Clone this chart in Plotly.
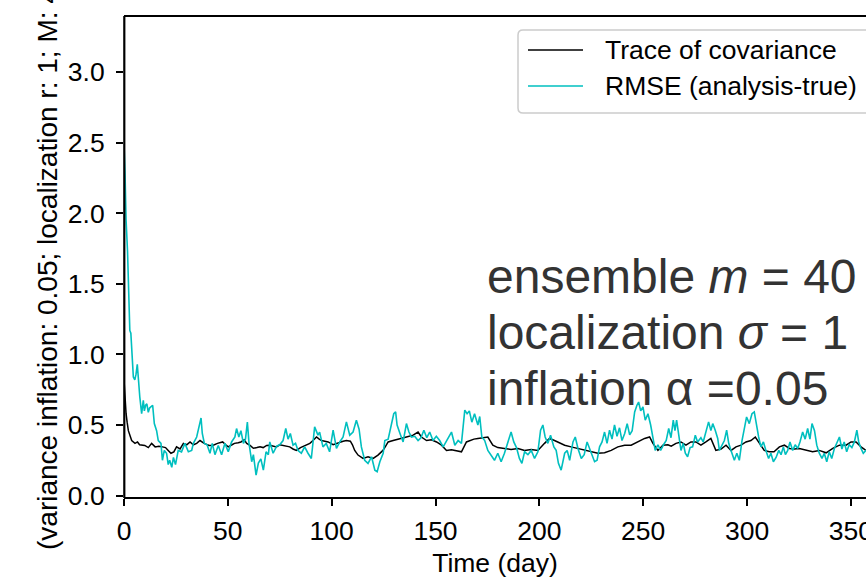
import plotly.graph_objects as go

# ---- data ----
trace_day = [0, 0.5, 1, 1.5, 2.1, 3, 3.7, 5.3, 6.5, 7.5, 8.5, 10, 11.7, 13.3, 15, 16.8, 18.5, 20, 21.3, 22.6,
             24, 25.3, 27, 28.6, 30.2, 31.8, 33.4, 35, 36.6, 38.6, 41, 43, 45, 47.5, 49, 50.2, 52, 53.2, 55, 56.3,
             57.9, 59.1, 60.7, 62.3, 64, 65.5, 67, 68.7, 70.2, 71.8, 73.4, 75, 76.6, 78, 79.8, 81.4, 83, 85, 87.8,
             89.5, 91, 92.7, 94, 95.1, 96.7, 98.3, 100.7, 102.3, 103.9, 105.5, 107.1, 109, 110, 111.1, 112.7,
             115.1, 117.5, 120, 122.3, 124.7, 126, 127.2, 129.6, 132.8, 136, 139.2, 141.6, 143.2, 145.7, 148,
             150.5, 152.9, 155.3, 157.7, 160.1, 162.5, 164.9, 166.5, 168.5, 170.4, 173, 175.2, 177.6, 180, 183.2,
             186.4, 189.7, 192.9, 196.1, 199.3, 202.5, 204.9, 207.3, 209.8, 212.2, 215.3, 218.6, 221.8, 225,
             228.2, 231.4, 234.6, 237.8, 241.1, 244.2, 247.5, 250.7, 253.1, 254.7, 257.1, 259.5, 261.9, 263.5,
             265.8, 268.2, 270.6, 273, 275.4, 277.8, 280.2, 282.6, 285, 287.5, 289.9, 292.3, 294.7, 297.1, 299.5,
             301.9, 304, 305.9, 308.3, 310.7, 313, 315.6, 318, 320.4, 322.8, 325.2, 328.4, 331.6, 334.8, 338.1,
             341.3, 344.5, 347.7, 350.1, 352.5, 354.9, 357.3, 360]
trace_val = [0.82, 0.68, 0.58, 0.52, 0.46, 0.42, 0.39, 0.37, 0.38, 0.36, 0.36, 0.355, 0.34, 0.37, 0.345, 0.35,
             0.345, 0.34, 0.32, 0.30, 0.31, 0.345, 0.33, 0.37, 0.36, 0.38, 0.36, 0.37, 0.39, 0.37, 0.355, 0.357,
             0.37, 0.38, 0.36, 0.345, 0.36, 0.37, 0.375, 0.38, 0.395, 0.37, 0.355, 0.335, 0.34, 0.345, 0.34,
             0.355, 0.357, 0.35, 0.345, 0.36, 0.355, 0.35, 0.345, 0.33, 0.32, 0.34, 0.357, 0.37, 0.39, 0.415,
             0.40, 0.39, 0.385, 0.38, 0.36, 0.37, 0.38, 0.385, 0.39, 0.385, 0.36, 0.32, 0.287, 0.263, 0.275,
             0.263, 0.287, 0.32, 0.35, 0.38, 0.39, 0.405, 0.415, 0.428, 0.45, 0.415, 0.39, 0.395, 0.38, 0.357,
             0.32, 0.325, 0.32, 0.31, 0.38, 0.39, 0.40, 0.405, 0.41, 0.415, 0.357, 0.34, 0.334, 0.327, 0.334,
             0.32, 0.327, 0.32, 0.37, 0.405, 0.39, 0.373, 0.357, 0.345, 0.334, 0.32, 0.31, 0.30, 0.303, 0.32,
             0.345, 0.357, 0.357, 0.38, 0.405, 0.415, 0.37, 0.32, 0.357, 0.36, 0.35, 0.37, 0.38, 0.357, 0.38,
             0.38, 0.357, 0.38, 0.405, 0.32, 0.33, 0.357, 0.32, 0.345, 0.357, 0.38, 0.39, 0.415, 0.37, 0.32,
             0.31, 0.31, 0.345, 0.357, 0.334, 0.33, 0.334, 0.32, 0.31, 0.32, 0.303, 0.334, 0.357, 0.357, 0.38,
             0.38, 0.345, 0.32, 0.33]

rmse_day = [0, 0.1, 0.5, 0.75, 1.0, 1.7, 2.2, 2.8, 3.3, 3.7, 4.5, 5.2, 5.8, 6.4, 6.9, 7.6, 8.5, 9.3, 9.8, 10.4,
            11.0, 11.7, 12.3, 13.0, 13.8, 14.6, 15.7, 16.5, 17.8, 18.5, 19.4, 20.5, 21.3, 22, 23, 23.8, 24.8,
            26.1, 27.7, 29.3, 31, 32.6, 33.4, 35, 36.1, 37.1, 37.7, 38.7, 40, 41.4, 42.5, 43.8, 45.4, 47, 48.6,
            50.2, 51.8, 53.4, 54.2, 55.3, 56.3, 57.5, 58.5, 59.4, 60.2, 61.5, 62.3, 63.6, 64.7, 65.9, 67.1, 68.4,
            69.5, 70.2, 71.8, 73.5, 75, 76.6, 77.9, 79, 80.1, 81.4, 82.6, 83.8, 85.4, 87, 88.6, 90.2, 91.8, 93.4,
            94.2, 95.8, 97.4, 99, 100.7, 102.3, 103.9, 105.5, 107.1, 108.7, 110.3, 111.9, 113.2, 114.3, 115.9,
            117.5, 119.2, 120.8, 121.9, 123.2, 124.8, 125.6, 127.2, 128.8, 129.9, 130.8, 131.5, 132.9, 134.4,
            136, 137.2, 138.4, 140, 141.6, 143, 144.4, 145.8, 147.2, 148.8, 150.4, 152, 153.7, 155.3, 156.9,
            157.7, 159.3, 160.9, 162.5, 164.1, 165.2, 166.3, 167.5, 168.8, 170.4, 171.3, 172.3, 173.7, 175.2,
            176.8, 178.4, 180, 181.6, 183.2, 184.8, 186.4, 187.7, 189, 190.4, 191.6, 192.9, 194.5, 196.1, 197.7,
            199.3, 200.6, 201.7, 202.8, 204.1, 205.4, 207, 208.1, 209.2, 210.5, 212.2, 213.4, 214.6, 216.2,
            217.3, 218.6, 220.2, 221.6, 223, 224.2, 225.3, 226.6, 227.8, 229, 230.2, 231.4, 232.6, 233.8, 235,
            236.2, 237.4, 238.6, 239.8, 241.1, 242.3, 243.5, 244.7, 245.9, 247, 247.8, 248.8, 249.9, 251, 252.3,
            253.6, 254.7, 255.8, 257.1, 258.4, 259.8, 261.1, 262.3, 263.4, 264.5, 265.3, 266.1, 267.1, 268.2,
            269.3, 270.3, 271.4, 272.6, 273.8, 275.1, 276.2, 277.8, 278.9, 280.2, 281.5, 282.6, 283.5, 284.7,
            285.9, 286.7, 287.9, 289.1, 290.2, 291.2, 292.3, 293.9, 295.1, 296.3, 297.6, 298.7, 299.8, 301.1,
            302.4, 303.5, 304.3, 305.6, 306.7, 307.9, 309.1, 310.4, 311.5, 312.7, 314, 315.3, 316.4, 317.5,
            318.5, 319.6, 320.7, 322, 323.2, 324.4, 325.5, 326.8, 328, 329.2, 330.3, 331.3, 332.5, 333.6, 334.8,
            336.1, 337.2, 338.4, 339.6, 340.8, 342, 343.2, 344.5, 345.7, 346.8, 348, 349.2, 350.5, 351.7, 352.9,
            353.8, 354.9, 356, 357.3, 360]
rmse_val = [3.24, 2.45, 2.28, 2.08, 1.95, 1.73, 1.45, 1.17, 1.15, 1.02, 0.84, 0.82, 0.86, 0.93, 0.82, 0.70, 0.58,
            0.675, 0.60, 0.64, 0.65, 0.59, 0.62, 0.63, 0.64, 0.51, 0.46, 0.39, 0.37, 0.25, 0.32, 0.30, 0.22,
            0.25, 0.20, 0.27, 0.22, 0.32, 0.31, 0.37, 0.31, 0.32, 0.37, 0.415, 0.50, 0.55, 0.44, 0.37, 0.36,
            0.30, 0.37, 0.29, 0.355, 0.29, 0.37, 0.31, 0.38, 0.415, 0.475, 0.415, 0.46, 0.37, 0.40, 0.52, 0.37,
            0.24, 0.29, 0.145, 0.23, 0.26, 0.18, 0.31, 0.29, 0.38, 0.30, 0.35, 0.36, 0.39, 0.475, 0.40, 0.44,
            0.357, 0.37, 0.32, 0.30, 0.345, 0.30, 0.263, 0.487, 0.428, 0.45, 0.345, 0.37, 0.31, 0.463, 0.334,
            0.38, 0.415, 0.522, 0.428, 0.45, 0.534, 0.47, 0.345, 0.25, 0.228, 0.275, 0.18, 0.169, 0.24, 0.30,
            0.39, 0.40, 0.50, 0.58, 0.594, 0.50, 0.44, 0.38, 0.51, 0.45, 0.415, 0.42, 0.39, 0.41, 0.463, 0.41,
            0.45, 0.39, 0.42, 0.39, 0.345, 0.39, 0.428, 0.45, 0.357, 0.39, 0.37, 0.605, 0.58, 0.60, 0.52, 0.58,
            0.50, 0.56, 0.415, 0.39, 0.32, 0.287, 0.25, 0.30, 0.24, 0.30, 0.38, 0.45, 0.38, 0.34, 0.263, 0.228,
            0.31, 0.29, 0.32, 0.263, 0.31, 0.463, 0.50, 0.415, 0.37, 0.428, 0.345, 0.32, 0.228, 0.18, 0.30,
            0.32, 0.25, 0.38, 0.415, 0.334, 0.263, 0.29, 0.38, 0.33, 0.287, 0.24, 0.25, 0.345, 0.38, 0.45, 0.37,
            0.463, 0.40, 0.50, 0.42, 0.48, 0.39, 0.44, 0.51, 0.43, 0.46, 0.593, 0.64, 0.663, 0.60, 0.628, 0.534,
            0.58, 0.50, 0.415, 0.32, 0.36, 0.32, 0.36, 0.39, 0.475, 0.41, 0.534, 0.46, 0.534, 0.415, 0.32, 0.37,
            0.30, 0.275, 0.34, 0.345, 0.428, 0.38, 0.41, 0.38, 0.45, 0.522, 0.46, 0.51, 0.463, 0.405, 0.32,
            0.35, 0.39, 0.463, 0.37, 0.32, 0.25, 0.30, 0.25, 0.39, 0.475, 0.557, 0.51, 0.58, 0.593, 0.522,
            0.415, 0.345, 0.38, 0.32, 0.263, 0.30, 0.24, 0.27, 0.32, 0.29, 0.345, 0.29, 0.32, 0.38, 0.32, 0.36,
            0.334, 0.38, 0.45, 0.40, 0.475, 0.40, 0.51, 0.46, 0.357, 0.30, 0.263, 0.30, 0.24, 0.31, 0.263,
            0.33, 0.37, 0.415, 0.33, 0.38, 0.31, 0.36, 0.34, 0.38, 0.463, 0.38, 0.334, 0.30, 0.32, 0.31]

x_ticks = [0, 50, 100, 150, 200, 250, 300, 350]
y_ticks = [0.0, 0.5, 1.0, 1.5, 2.0, 2.5, 3.0]
series_names = ["Trace of covariance", "RMSE (analysis-true)"]
series_colors = ["#000000", "#00BFBF"]
info_lines = ["ensemble <i>m</i> = 40", "localization <i>σ</i> = 1", "inflation α =0.05"]
y_label = "(variance inflation: 0.05; localization r: 1; M: 40)"
x_label = "Time (day)"

# ---- geometry (pixels) ----
W, H = 866, 582
L, T, B = 124, 17, 85
PW, PH = W - L, H - T - B
FONT = "Liberation Sans, Arial, sans-serif"
FS = 26.5


def px(x):
    return (x - L) / PW


def py(y):
    return (H - B - y) / PH


fig = go.Figure()
fig.add_trace(go.Scatter(x=trace_day, y=trace_val, mode="lines", name=series_names[0],
                         line=dict(color=series_colors[0], width=1.5), showlegend=False))
fig.add_trace(go.Scatter(x=rmse_day, y=rmse_val, mode="lines", name=series_names[1],
                         line=dict(color=series_colors[1], width=1.6), showlegend=False))

axis_common = dict(showgrid=False, zeroline=False, linecolor="black", linewidth=1.8,
                   ticks="outside", ticklen=7, tickwidth=1.6, tickcolor="black",
                   tickfont=dict(family=FONT, size=FS, color="black"))

fig.update_xaxes(range=[0, 357.3], tickvals=x_ticks, showline=True, mirror=True, ticklabeloverflow="allow",
                 ticklabelstandoff=2, **axis_common,
                 title=dict(text=x_label, font=dict(family=FONT, size=FS, color="black"), standoff=9))
fig.update_yaxes(range=[-0.01, 3.39], tickvals=y_ticks, tickformat=".1f", ticklabelstandoff=6,
                 showline=False, ticklabeloverflow="allow", **axis_common)

shapes = []
# left spine, drawn over the first instant of the curves as in the reference
shapes.append(dict(type="line", xref="paper", yref="paper", x0=px(124.3), x1=px(124.3), y0=py(497.9),
                   y1=py(16.1), line=dict(color="black", width=2.2), layer="above"))
# legend frame (extends past the right edge, as in the reference)
x0, x1, y0, y1, r = px(518), px(900), py(30), py(113), 5
rx, ry = r / PW, r / PH
path = (f"M {x0+rx},{y0} L {x1},{y0} L {x1},{y1} L {x0+rx},{y1} "
        f"Q {x0},{y1} {x0},{y1+ry} L {x0},{y0-ry} Q {x0},{y0} {x0+rx},{y0} Z")
shapes.append(dict(type="path", xref="paper", yref="paper", path=path,
                   line=dict(color="#cccccc", width=1.5), fillcolor="rgba(255,255,255,0.8)", layer="above"))
annotations = []
for i, (name, col) in enumerate(zip(series_names, series_colors)):
    yy = 50 + i * 36
    shapes.append(dict(type="line", xref="paper", yref="paper", x0=px(528), x1=px(583), y0=py(yy), y1=py(yy),
                       line=dict(color=col, width=1.5), layer="above"))
    annotations.append(dict(text=name, xref="paper", yref="paper", x=px(603), y=py(yy), xanchor="left",
                            yanchor="middle", showarrow=False, font=dict(family=FONT, size=FS, color="black")))

for i, line in enumerate(info_lines):
    annotations.append(dict(text=line, xref="paper", yref="paper", x=px(485), y=py(276 + i * 56),
                            xanchor="left", yanchor="middle", showarrow=False,
                            font=dict(family=FONT, size=48, color="#333333")))

annotations.append(dict(text=y_label, xref="paper", yref="paper", x=px(47), y=py(257), xanchor="center",
                        yanchor="middle", textangle=-90, showarrow=False,
                        font=dict(family=FONT, size=28, color="black")))

fig.update_layout(width=W, height=H, margin=dict(l=L, r=0, t=T, b=B, autoexpand=False),
                  paper_bgcolor="white", plot_bgcolor="white", shapes=shapes, annotations=annotations,
                  showlegend=False)

fig.write_html("out.html")
